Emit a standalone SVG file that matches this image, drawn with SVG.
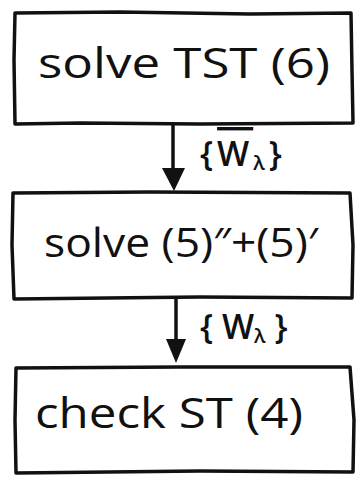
<svg xmlns="http://www.w3.org/2000/svg" width="358" height="477" viewBox="0 0 358 477">
<defs>
<style>
.box{fill:none;stroke:#111;stroke-width:3.5;stroke-linejoin:round;stroke-linecap:round}
.lbl{font-family:"Open Sans","Liberation Sans",sans-serif;fill:#111;font-weight:400}
.edge{stroke:#111;stroke-width:3.5;fill:none;stroke-linecap:round}
.ehl{font-family:"Open Sans","Liberation Sans",sans-serif;fill:#111;font-weight:600;font-size:34px}
</style>
</defs>
<rect width="358" height="477" fill="#fff"/>
<g id="connectors">
<g id="e1">
<line class="edge" x1="173" y1="124" x2="173" y2="170"/>
<path d="M162,168 L185,168 L174,191 Z" fill="#111"/>
<text class="ehl" x="200" y="166" letter-spacing="4">{<tspan style="text-decoration:overline">W</tspan><tspan font-size="20" dy="4">λ</tspan><tspan dy="-4">}</tspan></text>
</g>
<g id="e2">
<line class="edge" x1="176" y1="299" x2="176" y2="341"/>
<path d="M166,339 L186,339 L176,363 Z" fill="#111"/>
<text class="ehl" x="200" y="339">{ W<tspan font-size="20" dy="4">λ</tspan><tspan dy="-4"> }</tspan></text>
</g>
</g>
<g id="n1">
<path class="box" d="M15,13 L120,12 L250,14 L351,13 L352,70 L353,123 L200,124 L80,123 L15,124 L14,60 Z"/>
<text class="lbl" x="38" y="78" font-size="42" textLength="292" lengthAdjust="spacingAndGlyphs">solve  TST  (6)</text>
</g>
<g id="n2">
<path class="box" d="M13,193 L150,192 L350,193 L353,245 L352,298 L200,297 L14,299 L12,245 Z"/>
<text class="lbl" x="44" y="257" font-size="40" textLength="274" lengthAdjust="spacingAndGlyphs">solve (5)″+(5)′</text>
</g>
<g id="n3">
<path class="box" d="M16,368 L180,367 L350,367 L354,420 L353,472 L200,471 L16,473 L15,420 Z"/>
<text class="lbl" x="35" y="428" font-size="42" textLength="268" lengthAdjust="spacingAndGlyphs">check  ST  (4)</text>
</g>
</svg>
